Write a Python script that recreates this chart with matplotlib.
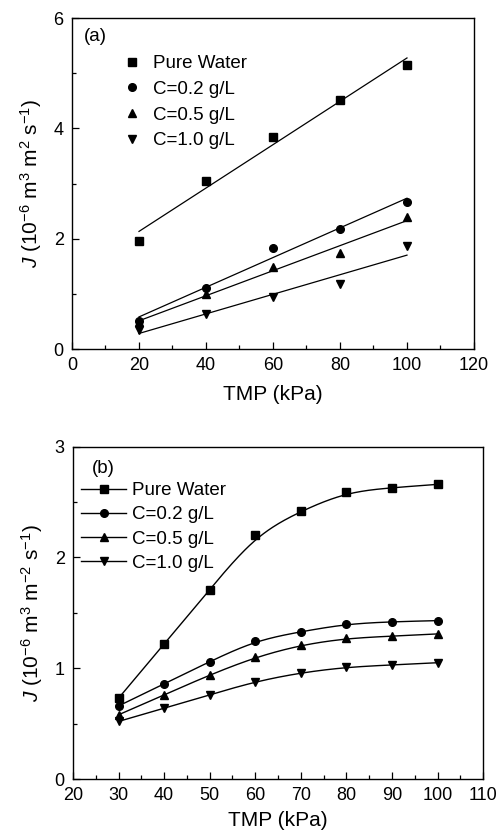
import numpy as np
import matplotlib
matplotlib.use("Agg")
import matplotlib.pyplot as plt
from matplotlib.ticker import MultipleLocator

plt.rcParams['font.family'] = ['Liberation Sans', 'DejaVu Sans']
plt.rcParams['mathtext.fontset'] = 'custom'
plt.rcParams['mathtext.rm'] = 'Liberation Sans'
plt.rcParams['mathtext.it'] = 'Liberation Sans:italic'

# --- data, panel (a) ---
tmp_a = [20, 40, 60, 80, 100]
a_water = [1.96, 3.04, 3.85, 4.52, 5.15]
a_c02 = [0.51, 1.10, 1.84, 2.18, 2.66]
a_c05 = [0.49, 1.00, 1.48, 1.74, 2.39]
a_c10 = [0.35, 0.64, 0.94, 1.17, 1.86]

# --- data, panel (b) ---
tmp_b = [30, 40, 50, 60, 70, 80, 90, 100]
b_water = [0.73, 1.22, 1.71, 2.20, 2.42, 2.59, 2.63, 2.66]
b_c02 = [0.66, 0.86, 1.06, 1.25, 1.33, 1.40, 1.42, 1.43]
b_c05 = [0.58, 0.76, 0.94, 1.10, 1.21, 1.27, 1.29, 1.31]
b_c10 = [0.52, 0.64, 0.76, 0.88, 0.96, 1.01, 1.03, 1.05]

labels = ['Pure Water', 'C=0.2 g/L', 'C=0.5 g/L', 'C=1.0 g/L']
markers = ['s', 'o', '^', 'v']


def bspline_curve(x, y, n=40):
    # uniform cubic B-spline (clamped ends) using the points as control points,
    # like the "B-spline" connect option of the original plotting program
    px = np.concatenate([[x[0]] * 2, x, [x[-1]] * 2]).astype(float)
    py = np.concatenate([[y[0]] * 2, y, [y[-1]] * 2]).astype(float)
    t = np.linspace(0, 1, n)
    b0 = (1 - t) ** 3 / 6
    b1 = (3 * t**3 - 6 * t**2 + 4) / 6
    b2 = (-3 * t**3 + 3 * t**2 + 3 * t + 1) / 6
    b3 = t**3 / 6
    xs, ys = [], []
    for i in range(len(px) - 3):
        xs.append(b0 * px[i] + b1 * px[i + 1] + b2 * px[i + 2] + b3 * px[i + 3])
        ys.append(b0 * py[i] + b1 * py[i + 1] + b2 * py[i + 2] + b3 * py[i + 3])
    return np.concatenate(xs), np.concatenate(ys)


def style_axes(ax):
    ax.tick_params(which='both', direction='in', top=False, right=False,
                   labelsize=13, width=0.9, pad=6)
    ax.tick_params(which='major', length=5)
    ax.tick_params(which='minor', length=3)
    for s in ax.spines.values():
        s.set_linewidth(1.0)


fig = plt.figure(figsize=(5.02, 8.34), dpi=100)

# ---------------- panel (a) ----------------
ax1 = fig.add_axes([0.1434, 0.5815, 0.8008, 0.3969])
for ys, mk, lb in zip([a_water, a_c02, a_c05, a_c10], markers, labels):
    ax1.plot(tmp_a, ys, linestyle='none', marker=mk, color='black',
             markersize=5.5, label=lb)
    p = np.polyfit(tmp_a, ys, 1)
    xl = np.array([tmp_a[0], tmp_a[-1]])
    ax1.plot(xl, np.polyval(p, xl), color='black', lw=0.9)

ax1.set_xlim(0, 120)
ax1.set_ylim(0, 6)
ax1.xaxis.set_major_locator(MultipleLocator(20))
ax1.xaxis.set_minor_locator(MultipleLocator(10))
ax1.yaxis.set_major_locator(MultipleLocator(2))
ax1.yaxis.set_minor_locator(MultipleLocator(1))
style_axes(ax1)
ax1.set_xlabel('TMP (kPa)', fontsize=15, labelpad=8)
ax1.set_ylabel(r'$\mathit{J}$ (10$^{-6}$ m$^{3}$ m$^{2}$ s$^{-1}$)', fontsize=15, labelpad=7)
ax1.text(0.03, 0.93, '(a)', transform=ax1.transAxes, fontsize=13.5)
ax1.legend(loc='upper left', bbox_to_anchor=(0.125, 0.888), frameon=False,
           fontsize=13.5, handlelength=1.0, handletextpad=0.65,
           labelspacing=0.46, borderaxespad=0, borderpad=0)

# ---------------- panel (b) ----------------
ax2 = fig.add_axes([0.1454, 0.0659, 0.817, 0.3985])
for ys, mk, lb in zip([b_water, b_c02, b_c05, b_c10], markers, labels):
    xs, ss = bspline_curve(tmp_b, ys)
    ax2.plot(xs, ss, color='black', lw=1.0)
    ax2.plot(tmp_b, ys, linestyle='none', marker=mk, color='black', markersize=5.5)
    ax2.plot([], [], color='black', lw=1.0, marker=mk, markersize=5.5, label=lb)

ax2.set_xlim(20, 110)
ax2.set_ylim(0, 3)
ax2.xaxis.set_major_locator(MultipleLocator(10))
ax2.xaxis.set_minor_locator(MultipleLocator(5))
ax2.yaxis.set_major_locator(MultipleLocator(1))
ax2.yaxis.set_minor_locator(MultipleLocator(0.5))
style_axes(ax2)
ax2.set_xlabel('TMP (kPa)', fontsize=15, labelpad=5)
ax2.set_ylabel(r'$\mathit{J}$ (10$^{-6}$ m$^{3}$ m$^{-2}$ s$^{-1}$)', fontsize=15, labelpad=7)
ax2.text(0.045, 0.92, '(b)', transform=ax2.transAxes, fontsize=13.5)
ax2.legend(loc='upper left', bbox_to_anchor=(0.02, 0.893), frameon=False,
           fontsize=13.5, handlelength=2.4, handletextpad=0.3,
           labelspacing=0.37, borderaxespad=0, borderpad=0)

fig.savefig('out.png', dpi=100)
